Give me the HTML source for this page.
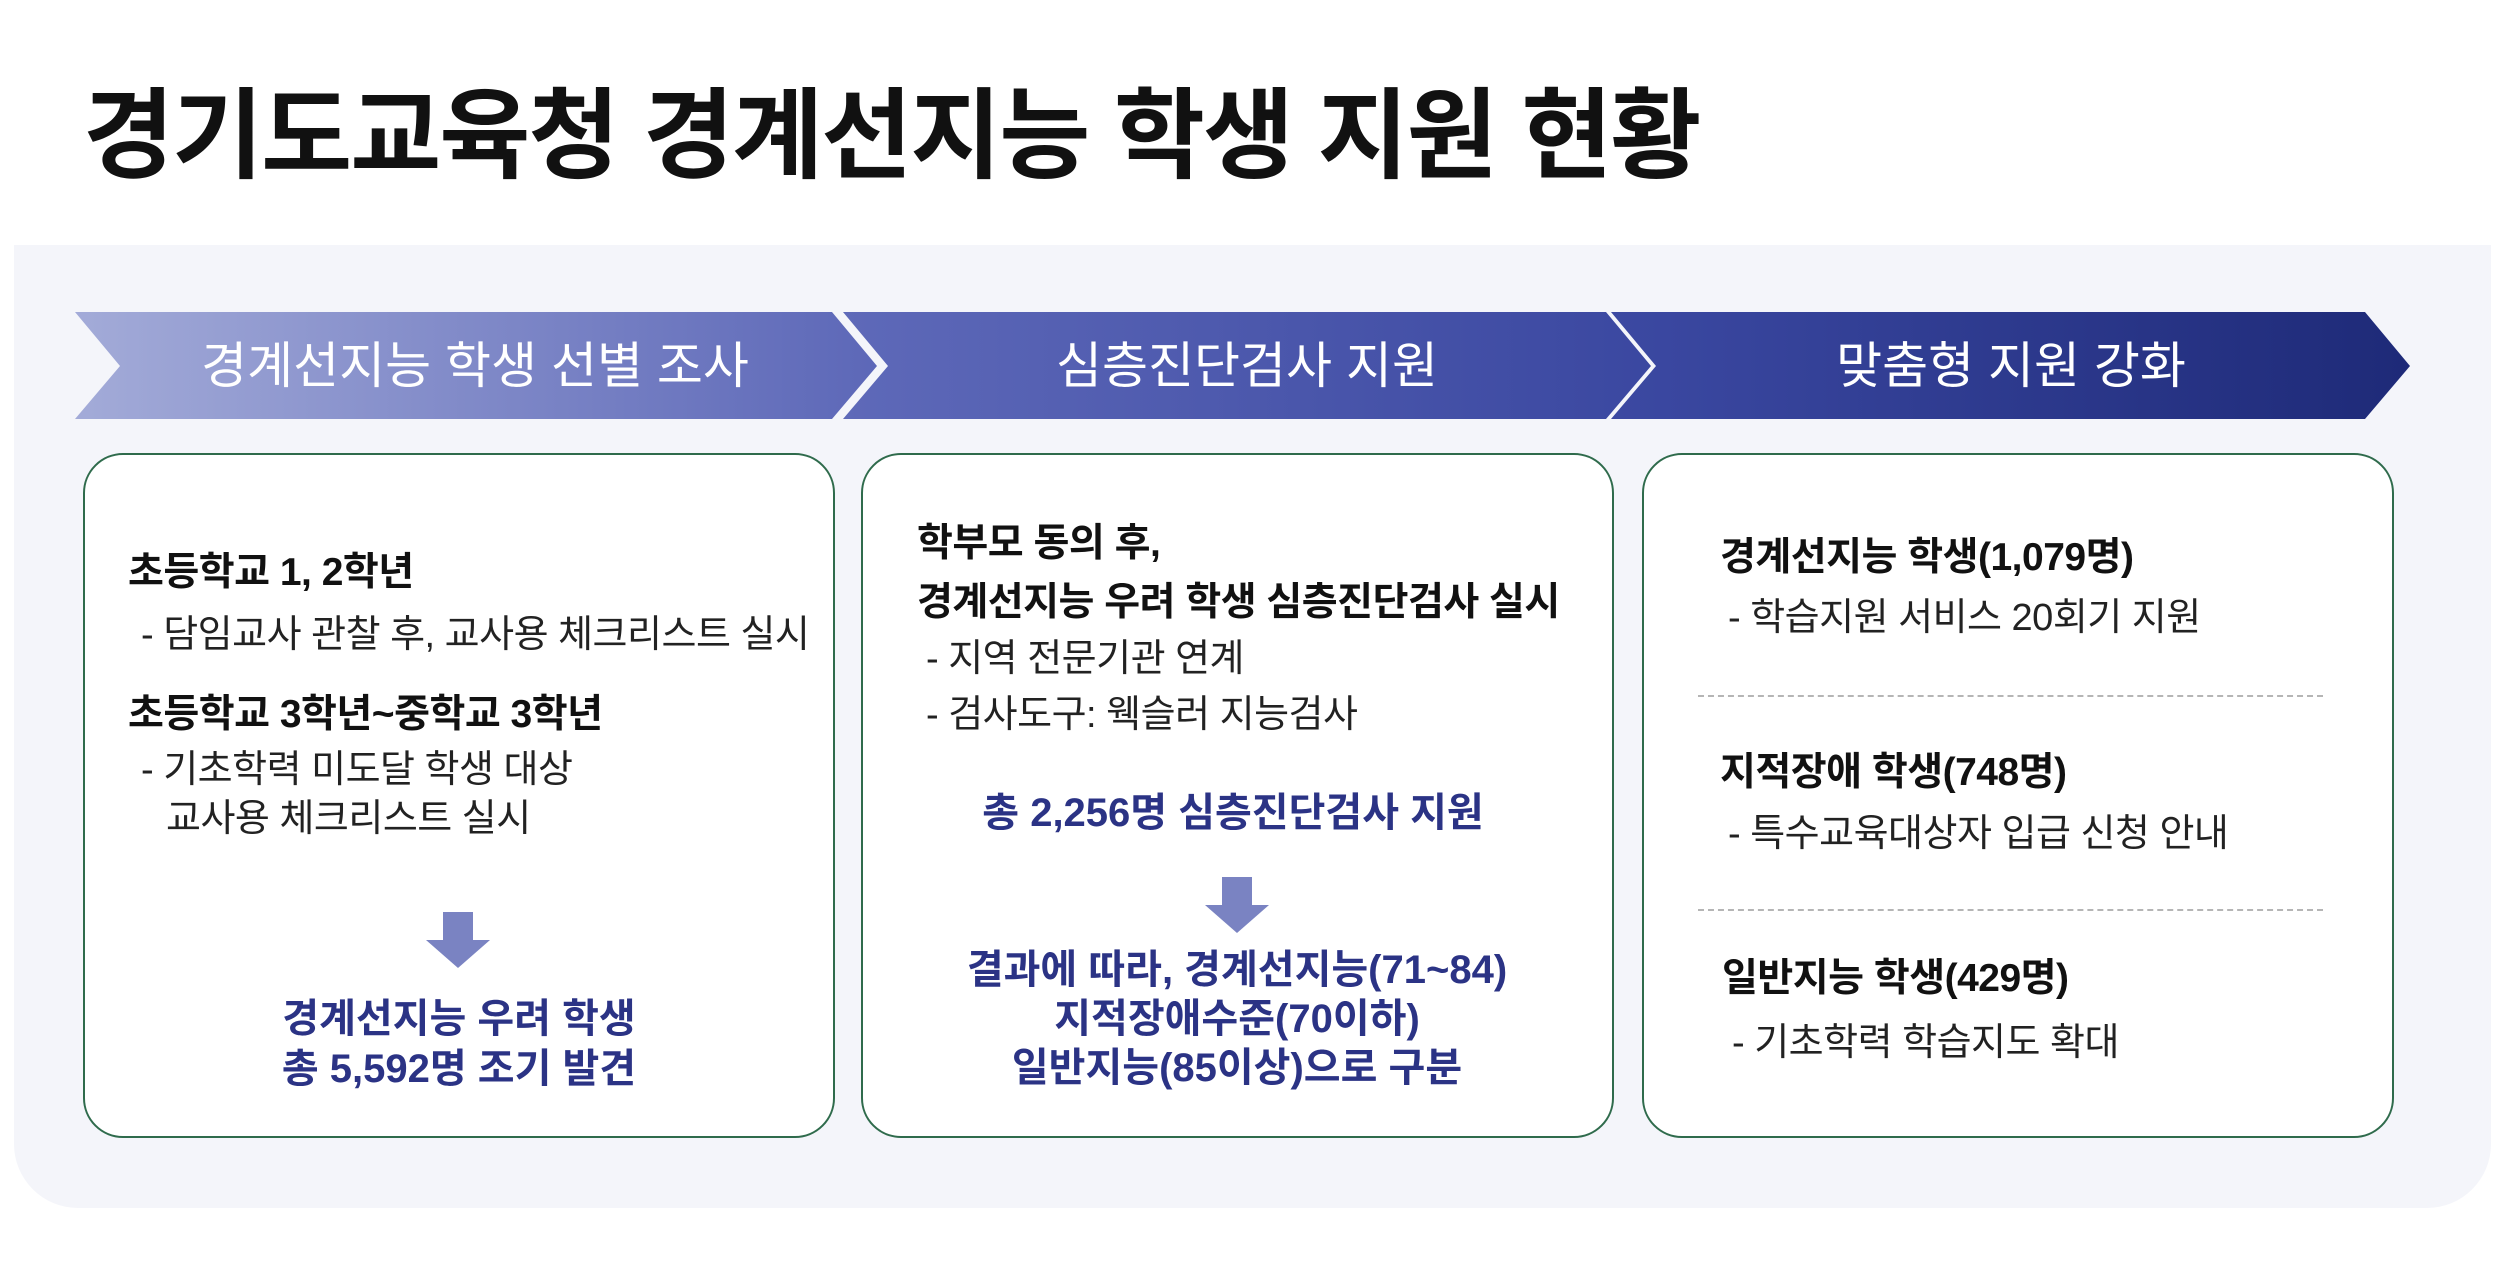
<!DOCTYPE html>
<html><head><meta charset="utf-8"><style>
*{margin:0;padding:0;box-sizing:border-box}
body{width:2510px;height:1266px;background:#fff;position:relative;overflow:hidden;font-family:"Liberation Sans","Noto Sans CJK KR",sans-serif;color:#111}
.a{position:absolute;white-space:nowrap}
.t{left:83px;top:76px;font-size:99px;font-weight:bold;letter-spacing:-2px;line-height:120px}
.panel{position:absolute;left:14px;top:245px;width:2477px;height:963px;background:#f4f5fa;border-radius:0 0 64px 64px}
.card{position:absolute;top:453px;height:685px;background:#fff;border:2.5px solid #2f6b4c;border-radius:40px}
.h{font-size:39px;font-weight:bold;line-height:50px;letter-spacing:-0.5px}
.b{font-size:38px;line-height:50px;letter-spacing:-0.5px;color:#222}
.bl{font-size:40px;font-weight:bold;line-height:50px;color:#2b3385;text-align:center;transform:translateX(-50%)}
.ct{font-size:50px;color:#fff;line-height:70px;transform:translateX(-50%);top:331px}
.dash{position:absolute;left:1698px;width:625px;border-top:2px dashed #b5b5b5}
</style></head><body>
<div class="a t">경기도교육청 경계선지능 학생 지원 현황</div>
<div class="panel"></div>
<div class="card" style="left:83px;width:752px"></div>
<div class="card" style="left:861px;width:753px"></div>
<div class="card" style="left:1642px;width:752px"></div>
<svg class="a" style="left:0;top:0" width="2510" height="1266">
<defs><linearGradient id="g" x1="75" y1="0" x2="2410" y2="0" gradientUnits="userSpaceOnUse">
<stop offset="0" stop-color="#a3abd8"/><stop offset="0.34" stop-color="#5d68b8"/><stop offset="0.68" stop-color="#3a47a0"/><stop offset="1" stop-color="#1e2a78"/></linearGradient></defs>
<polygon fill="url(#g)" points="75,312 832,312 877,366 832,419 75,419 120,366"/>
<polygon fill="url(#g)" points="843,312 1606,312 1651,366 1606,419 843,419 888,366"/>
<polygon fill="url(#g)" points="1611,312 2365,312 2410,366 2365,419 1611,419 1656,366"/>
<g fill="#7a83c2">
<rect x="443" y="912" width="30" height="30"/><polygon points="426,940 490,940 458,968"/>
<rect x="1222" y="877" width="30" height="30"/><polygon points="1205,905 1269,905 1237,933"/>
</g>
</svg>
<div class="a ct" style="left:475px">경계선지능 학생 선별 조사</div>
<div class="a ct" style="left:1247px">심층진단검사 지원</div>
<div class="a ct" style="left:2011px">맞춤형 지원 강화</div>

<div class="a h" style="left:128px;top:548px">초등학교 1, 2학년</div>
<div class="a b" style="left:141px;top:610px">- 담임교사 관찰 후, 교사용 체크리스트 실시</div>
<div class="a h" style="left:128px;top:690px">초등학교 3학년~중학교 3학년</div>
<div class="a b" style="left:141px;top:745px">- 기초학력 미도달 학생 대상</div>
<div class="a b" style="left:166px;top:794px">교사용 체크리스트 실시</div>
<div class="a bl" style="left:459px;top:994px">경계선지능 우려 학생<br>총 5,592명 조기 발견</div>

<div class="a h" style="left:917px;top:519px">학부모 동의 후,</div>
<div class="a h" style="left:917px;top:578px">경계선지능 우려 학생 심층진단검사 실시</div>
<div class="a b" style="left:926px;top:634px">- 지역 전문기관 연계</div>
<div class="a b" style="left:926px;top:690px">- 검사도구: 웩슬러 지능검사</div>
<div class="a bl" style="left:1233px;top:788px">총 2,256명 심층진단검사 지원</div>
<div class="a bl" style="left:1237px;top:946px;line-height:49px">결과에 따라, 경계선지능(71~84)<br>지적장애수준(70이하)<br>일반지능(85이상)으로 구분</div>

<div class="a h" style="left:1720px;top:533px">경계선지능 학생(1,079명)</div>
<div class="a b" style="left:1728px;top:593px">- 학습지원 서비스 20회기 지원</div>
<div class="dash" style="top:695px"></div>
<div class="a h" style="left:1720px;top:748px">지적장애 학생(748명)</div>
<div class="a b" style="left:1728px;top:809px">- 특수교육대상자 입급 신청 안내</div>
<div class="dash" style="top:909px"></div>
<div class="a h" style="left:1722px;top:954px">일반지능 학생(429명)</div>
<div class="a b" style="left:1732px;top:1018px">- 기초학력 학습지도 확대</div>
</body></html>
